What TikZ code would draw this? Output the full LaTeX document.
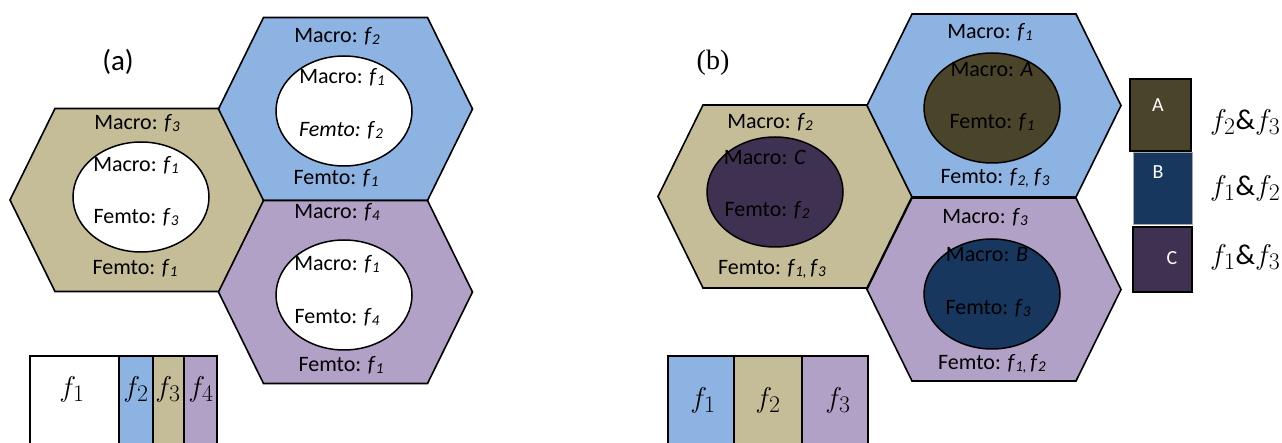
\documentclass[tikz,border=0pt]{standalone}
\usepackage{fontspec}
\setmainfont{Carlito}
\newfontfamily\tnr{Liberation Serif}
\usetikzlibrary{shapes.geometric}
\definecolor{hexblue}{HTML}{8DB3E2}
\definecolor{hextan}{HTML}{C4BD97}
\definecolor{hexpurple}{HTML}{B2A1C7}
\definecolor{darkolive}{HTML}{4A452A}
\definecolor{darkblue}{HTML}{17375E}
\definecolor{darkpurple}{HTML}{3F3151}
\newcommand\ff[1]{\textit{f}{\fontsize{15}{15}\selectfont\raisebox{-2.5pt}{\textit{#1}}}}
\newcommand\mm[1]{\scalebox{1.15}{$#1$}}
\newcommand\hexcell[3]{% cx, cy, fill
  \path[hexline, fill=#3] ({#1-127},{#2}) -- ({#1-82},{#2-91.5}) -- ({#1+82},{#2-91.5})
    -- ({#1+127},{#2}) -- ({#1+82},{#2+91.5}) -- ({#1-82},{#2+91.5}) -- cycle;}
\tikzset{
  hexline/.style={draw=black, line width=1.6pt, line join=miter},
  ell/.style={draw=black, line width=1.5pt, ellipse, minimum width=136pt, minimum height=110pt, inner sep=0pt},
  txt/.style={font=\fontsize{22}{25}\selectfont, inner sep=0pt},
  lab/.style={font=\fontsize{29}{32}\selectfont, inner sep=0pt},
  mlab/.style={font=\fontsize{24.88}{28}\selectfont, inner sep=0pt},
  legbox/.style={draw=black, line width=1.6pt},
  keytxt/.style={font=\fontsize{20}{24}\selectfont, text=white, inner sep=0pt}
}
\begin{document}
\begin{tikzpicture}[x=1pt, y=-1pt]
\useasboundingbox (0,0) rectangle (1282,443);
\clip (0,0) rectangle (1282,443);
\fill[white] (0,0) rectangle (1282,443);

% ---------------- (a) ----------------
\node[lab] (la) at (118,62) {(a)};
\hexcell{137}{200}{hextan}
\hexcell{345.5}{109}{hexblue}
\hexcell{345.5}{292}{hexpurple}
\node[ell, fill=white] (ea1) at (141,197) {};
\node[ell, fill=white] (ea2) at (344,111) {};
\node[ell, fill=white] (ea3) at (344,295) {};

\node[txt] (a11) at (137,123) {Macro: \ff{3}};
\node[txt] (a12) at (136,165) {Macro: \ff{1}};
\node[txt] (a13) at (136,217) {Femto: \ff{3}};
\node[txt] (a14) at (135,268) {Femto: \ff{1}};

\node[txt] (a21) at (337,36) {Macro: \ff{2}};
\node[txt] (a22) at (342,77) {Macro: \ff{1}};
\node[txt] (a23) at (341,130) {\textit{Femto:} \ff{2}};
\node[txt] (a24) at (336,178) {Femto: \ff{1}};

\node[txt] (a31) at (337,212) {Macro: \ff{4}};
\node[txt] (a32) at (337,264) {Macro: \ff{1}};
\node[txt] (a33) at (337,317) {Femto: \ff{4}};
\node[txt] (a34) at (341,365) {Femto: \ff{1}};

% legend (a)
\path[legbox, fill=white] (30,356) rectangle (119,450);
\path[legbox, fill=hexblue] (119,356) rectangle (153,450);
\path[legbox, fill=hextan] (153,356) rectangle (184,450);
\path[legbox, fill=hexpurple] (184,356) rectangle (217,450);
\node[mlab] (ka1) at (72,389) {\mm{f_1}};
\node[mlab] (ka2) at (136,389) {\mm{f_2}};
\node[mlab] (ka3) at (168,389) {\mm{f_3}};
\node[mlab] (ka4) at (201,389) {\mm{f_4}};

% ---------------- (b) ----------------
\node[lab, font=\tnr\fontsize{28}{32}\selectfont] (lb) at (713,63) {(b)};
\hexcell{785}{196.5}{hextan}
\hexcell{994}{105.5}{hexblue}
\hexcell{994}{289.5}{hexpurple}
\node[ell, fill=darkpurple] (eb1) at (775,192) {};
\node[ell, fill=darkolive] (eb2) at (992,108) {};
\node[ell, fill=darkblue] (eb3) at (992,294) {};

\node[txt] (b11) at (770,122) {Macro: \ff{2}};
\node[txt] (b12) at (765,157) {Macro: \textit{C}};
\node[txt] (b13) at (767,210) {Femto: \ff{2}};
\node[txt] (b14) at (772,269) {Femto: \ff{1,}\,\ff{3}};

\node[txt] (b21) at (990,32) {Macro: \ff{1}};
\node[txt] (b22) at (992,70) {Macro: \textit{A}};
\node[txt] (b23) at (992,122) {Femto: \ff{1}};
\node[txt] (b24) at (995,178) {Femto: \ff{2,} \ff{3}};

\node[txt] (b31) at (985,217) {Macro: \ff{3}};
\node[txt] (b32) at (987,255) {Macro: \textit{B}};
\node[txt] (b33) at (988,308) {Femto: \ff{3}};
\node[txt] (b34) at (992,364) {Femto: \ff{1,}\,\ff{2}};

% key boxes
\path[legbox, fill=darkolive] (1130,79) rectangle (1191,151);
\path[draw=gray!70, line width=1pt, fill=darkblue] (1133,153) rectangle (1192,225);
\path[legbox, fill=darkpurple] (1133,227) rectangle (1192,292);
\node[keytxt] (kA) at (1158,105) {A};
\node[keytxt] (kB) at (1158,172) {B};
\node[keytxt] (kC) at (1172,258) {C};
\node[mlab, anchor=west] (kt1) at (1210,122) {\mm{f_2\&f_3}};
\node[mlab, anchor=west] (kt2) at (1210,188) {\mm{f_1\&f_2}};
\node[mlab, anchor=west] (kt3) at (1210,257) {\mm{f_1\&f_3}};

% legend (b)
\path[legbox, fill=hexblue] (668,356) rectangle (734,450);
\path[legbox, fill=hextan] (734,356) rectangle (802,450);
\path[legbox, fill=hexpurple] (802,356) rectangle (868,450);
\node[mlab] (kb1) at (703,400) {\mm{f_1}};
\node[mlab] (kb2) at (768,400) {\mm{f_2}};
\node[mlab] (kb3) at (838,400) {\mm{f_3}};
\end{tikzpicture}
\end{document}
